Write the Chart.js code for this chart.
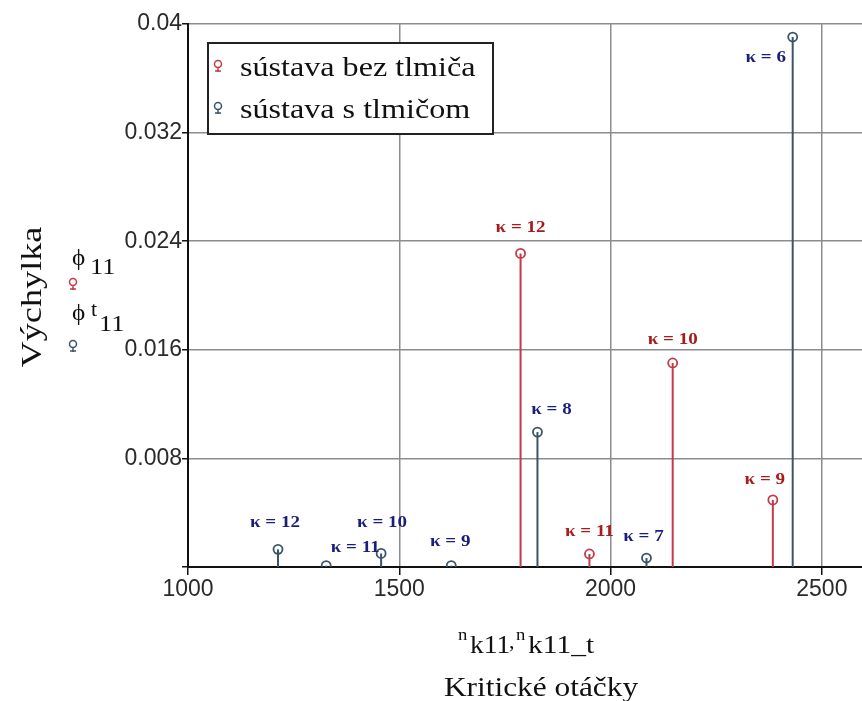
<!DOCTYPE html>
<html lang="sk">
<head>
<meta charset="UTF-8">
<title>Kritické otáčky</title>
<script src="https://cdn.jsdelivr.net/npm/chart.js"></script>
<style>
    body { margin: 0; background: #fff; }
    #wrap { width: 862px; height: 701px; }
</style>
</head>
<body>
<div id="wrap"><canvas id="c" width="862" height="701"></canvas></div>
<script>
// dáta odčítané z grafu
const xTicks = [1000, 1500, 2000, 2500];
const yTicks = [0, 0.008, 0.016, 0.024, 0.032, 0.04];

// sústava bez tlmiča
const nBez = [1787, 1950, 2147, 2384];
const phiBez = [0.0231, 0.00096, 0.01503, 0.00494];
const kBez = [12, 11, 10, 9];

// sústava s tlmičom
const nTl = [1213, 1327, 1457, 1623, 1827, 2085, 2431];
const phiTl = [0.0013, 0.0001, 0.001, 0.0001, 0.00994, 0.00066, 0.03904];
const kTl = [12, 11, 10, 9, 8, 7, 6];

// posun popisov od bodu (px)
const offBez = [[0, -26], [0, -22], [0, -23], [-8, -20]];
const offTl = [[-3, -27], [29, -18], [1, -31], [-1, -24], [14, -22], [-3, -21], [-27, 21]];

const RED = '#c23b48', BLUE = '#3b5468';
const RED_TXT = '#a81c1c', BLUE_TXT = '#1b1f78';
const SERIF = '"Liberation Serif", serif';

function pts(xs, ys) { return xs.map((x, i) => ({ x: x, y: ys[i] })); }

// text natiahnutý do šírky ako v pôvodnom obrázku
function wideText(ctx, txt, x, y, size, sx, align) {
    ctx.save();
    ctx.font = size + 'px ' + SERIF;
    ctx.translate(x, y);
    ctx.scale(sx, 1);
    ctx.textAlign = align || 'left';
    ctx.fillText(txt, 0, 0);
    ctx.restore();
}

const stems = {
    id: 'stems',
    beforeDatasetsDraw(chart) {
        const ctx = chart.ctx, xs = chart.scales.x, ys = chart.scales.y;
        chart.data.datasets.forEach(ds => {
            ctx.save();
            ctx.strokeStyle = ds.borderColor;
            ctx.lineWidth = 2;
            ds.data.forEach(p => {
                const px = xs.getPixelForValue(p.x);
                ctx.beginPath();
                ctx.moveTo(px, ys.getPixelForValue(0));
                ctx.lineTo(px, ys.getPixelForValue(p.y));
                ctx.stroke();
            });
            ctx.restore();
        });
    },
    afterDatasetsDraw(chart) {
        const ctx = chart.ctx;
        ctx.save();
        ctx.textBaseline = 'middle';
        chart.data.datasets.forEach((ds, di) => {
            const meta = chart.getDatasetMeta(di);
            meta.data.forEach((el, i) => {
                const o = ds.offs[i];
                ctx.fillStyle = ds.txtColor;
                ctx.save();
                ctx.font = 'bold 17px ' + SERIF;
                ctx.translate(el.x + o[0], el.y + o[1]);
                ctx.scale(1.12, 1);
                ctx.textAlign = 'center';
                ctx.fillText('\u03ba = ' + ds.kappa[i], 0, 0);
                ctx.restore();
            });
        });
        ctx.restore();
    }
};

function marker(ctx, x, y, color) {
    ctx.save();
    ctx.strokeStyle = color;
    ctx.lineWidth = 1.5;
    ctx.beginPath();
    ctx.arc(x, y - 2, 3.5, 0, Math.PI * 2);
    ctx.moveTo(x, y + 1.5);
    ctx.lineTo(x, y + 6);
    ctx.moveTo(x - 3, y + 5);
    ctx.lineTo(x + 3, y + 5);
    ctx.stroke();
    ctx.restore();
}

const titles = {
    id: 'titles',
    afterDraw(chart) {
        const ctx = chart.ctx;
        ctx.save();
        ctx.fillStyle = '#111';
        ctx.textBaseline = 'alphabetic';

        // os y
        ctx.save();
        ctx.translate(41, 297);
        ctx.rotate(-Math.PI / 2);
        ctx.scale(1.25, 1);
        ctx.textAlign = 'center';
        ctx.font = '29px ' + SERIF;
        ctx.fillText('Výchylka', 0, 0);
        ctx.restore();

        wideText(ctx, '\u03d5', 72, 265, 24, 1.05);
        wideText(ctx, '11', 90, 274, 24, 1.1);
        marker(ctx, 73, 284, RED);
        wideText(ctx, '\u03d5', 72, 320, 24, 1.05);
        wideText(ctx, 't', 91, 316, 20, 1.1);
        wideText(ctx, '11', 99, 331, 24, 1.1);
        marker(ctx, 73, 346, BLUE);

        // os x
        wideText(ctx, 'n', 458, 640, 17, 1.1);
        wideText(ctx, 'k11', 470, 653, 25, 1.1);
        wideText(ctx, ',', 509, 648, 22, 1);
        wideText(ctx, 'n', 516, 640, 17, 1.1);
        wideText(ctx, 'k11_t', 528, 653, 25, 1.18);
        wideText(ctx, 'Kritické otáčky', 541, 696, 28, 1.12, 'center');

        // legenda
        ctx.fillStyle = '#fff';
        ctx.fillRect(208, 43, 285, 91);
        ctx.strokeStyle = '#222';
        ctx.lineWidth = 2;
        ctx.strokeRect(208, 43, 285, 91);
        ctx.fillStyle = '#111';
        chart.data.datasets.forEach((ds, i) => {
            const y = 68 + i * 42;
            marker(ctx, 218, y - 2, ds.borderColor);
            wideText(ctx, ds.label, 240, y + 8, 27, 1.19);
        });
        ctx.restore();
    }
};

new Chart(document.getElementById('c'), {
    type: 'scatter',
    data: {
        datasets: [{
            label: 'sústava bez tlmiča',
            data: pts(nBez, phiBez),
            kappa: kBez,
            offs: offBez,
            txtColor: RED_TXT,
            borderColor: RED,
            backgroundColor: 'rgba(0,0,0,0)',
            pointRadius: 4.5,
            pointBorderWidth: 1.8
        }, {
            label: 'sústava s tlmičom',
            data: pts(nTl, phiTl),
            kappa: kTl,
            offs: offTl,
            txtColor: BLUE_TXT,
            borderColor: BLUE,
            backgroundColor: 'rgba(0,0,0,0)',
            pointRadius: 4.5,
            pointBorderWidth: 1.8
        }]
    },
    options: {
        responsive: false,
        animation: false,
        layout: { autoPadding: false, padding: { top: 24, right: 0, left: 0, bottom: 0 } },
        plugins: { legend: { display: false }, tooltip: { enabled: false } },
        scales: {
            x: {
                type: 'linear',
                min: 1000,
                max: 2595,
                afterBuildTicks: s => { s.ticks = xTicks.map(v => ({ value: v })); },
                afterFit: s => { s.height = 134; s.paddingRight = 0; s.paddingLeft = 0; },
                ticks: {
                    color: '#2a2a2a',
                    font: { family: '"Liberation Sans", sans-serif', size: 23 },
                    padding: 1,
                    callback: v => String(v)
                },
                grid: { color: '#8c8c8c', lineWidth: 1.5, tickLength: 8, tickColor: '#111' },
                border: { color: '#111', width: 2 }
            },
            y: {
                min: 0,
                max: 0.04,
                afterBuildTicks: s => { s.ticks = yTicks.map(v => ({ value: v })); },
                afterFit: s => { s.width = 188; },
                ticks: {
                    color: '#2a2a2a',
                    font: { family: '"Liberation Sans", sans-serif', size: 23 },
                    padding: 0,
                    callback: v => v === 0 ? '' : String(+v.toFixed(3))
                },
                grid: { color: '#8c8c8c', lineWidth: 1.5, tickLength: 6, tickColor: '#111' },
                border: { color: '#111', width: 2 }
            }
        }
    },
    plugins: [stems, titles]
});
</script>
</body>
</html>
